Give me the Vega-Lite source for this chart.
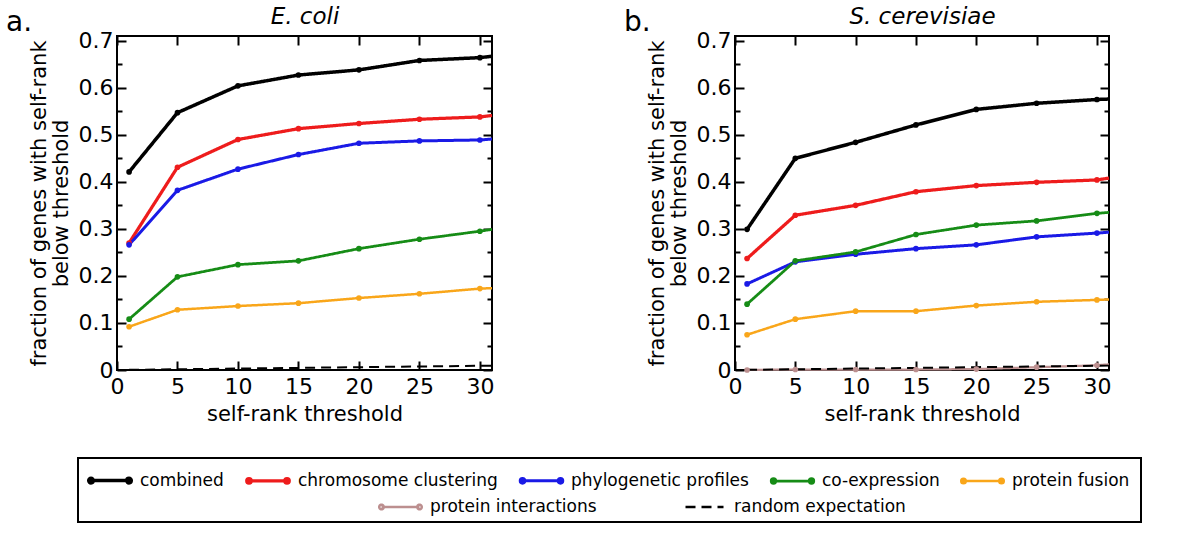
{
  "$schema": "https://vega.github.io/schema/vega-lite/v6.json",
  "padding": {"left": 5, "top": 4, "right": 5, "bottom": 5},
  "background": "white",
  "config": {
    "font": "DejaVu Sans",
    "view": {"stroke": "black", "strokeWidth": 2},
    "axis": {"grid": false, "ticks": true, "domain": false, "tickColor": "black", "tickWidth": 2, "tickSize": 9, "offset": -9, "labelColor": "black", "titleColor": "black", "labelFont": "DejaVu Sans", "titleFont": "DejaVu Sans", "titleFontWeight": "normal", "labelFontSize": 22, "titleFontSize": 21}
  },
  "datasets": {
    "d": [
      {"p":"a","s":"combined","x":1,"y":0.421},{"p":"a","s":"combined","x":5,"y":0.547},{"p":"a","s":"combined","x":10,"y":0.604},{"p":"a","s":"combined","x":15,"y":0.627},{"p":"a","s":"combined","x":20,"y":0.638},{"p":"a","s":"combined","x":25,"y":0.658},{"p":"a","s":"combined","x":30,"y":0.664},{"p":"a","s":"combined","x":31,"y":0.667},
      {"p":"a","s":"chromosome clustering","x":1,"y":0.270},{"p":"a","s":"chromosome clustering","x":5,"y":0.431},{"p":"a","s":"chromosome clustering","x":10,"y":0.490},{"p":"a","s":"chromosome clustering","x":15,"y":0.513},{"p":"a","s":"chromosome clustering","x":20,"y":0.524},{"p":"a","s":"chromosome clustering","x":25,"y":0.533},{"p":"a","s":"chromosome clustering","x":30,"y":0.538},{"p":"a","s":"chromosome clustering","x":31,"y":0.541},
      {"p":"a","s":"phylogenetic profiles","x":1,"y":0.266},{"p":"a","s":"phylogenetic profiles","x":5,"y":0.382},{"p":"a","s":"phylogenetic profiles","x":10,"y":0.427},{"p":"a","s":"phylogenetic profiles","x":15,"y":0.458},{"p":"a","s":"phylogenetic profiles","x":20,"y":0.482},{"p":"a","s":"phylogenetic profiles","x":25,"y":0.487},{"p":"a","s":"phylogenetic profiles","x":30,"y":0.489},{"p":"a","s":"phylogenetic profiles","x":31,"y":0.491},
      {"p":"a","s":"co-expression","x":1,"y":0.108},{"p":"a","s":"co-expression","x":5,"y":0.198},{"p":"a","s":"co-expression","x":10,"y":0.224},{"p":"a","s":"co-expression","x":15,"y":0.232},{"p":"a","s":"co-expression","x":20,"y":0.258},{"p":"a","s":"co-expression","x":25,"y":0.278},{"p":"a","s":"co-expression","x":30,"y":0.295},{"p":"a","s":"co-expression","x":31,"y":0.299},
      {"p":"a","s":"protein fusion","x":1,"y":0.092},{"p":"a","s":"protein fusion","x":5,"y":0.128},{"p":"a","s":"protein fusion","x":10,"y":0.136},{"p":"a","s":"protein fusion","x":15,"y":0.142},{"p":"a","s":"protein fusion","x":20,"y":0.153},{"p":"a","s":"protein fusion","x":25,"y":0.162},{"p":"a","s":"protein fusion","x":30,"y":0.173},{"p":"a","s":"protein fusion","x":31,"y":0.174},
      {"p":"a","s":"random expectation","x":1,"y":0.0003},{"p":"a","s":"random expectation","x":5,"y":0.0015},{"p":"a","s":"random expectation","x":10,"y":0.003},{"p":"a","s":"random expectation","x":15,"y":0.0045},{"p":"a","s":"random expectation","x":20,"y":0.006},{"p":"a","s":"random expectation","x":25,"y":0.0075},{"p":"a","s":"random expectation","x":30,"y":0.009},{"p":"a","s":"random expectation","x":31,"y":0.0093},
      {"p":"b","s":"combined","x":1,"y":0.299},{"p":"b","s":"combined","x":5,"y":0.450},{"p":"b","s":"combined","x":10,"y":0.484},{"p":"b","s":"combined","x":15,"y":0.521},{"p":"b","s":"combined","x":20,"y":0.554},{"p":"b","s":"combined","x":25,"y":0.567},{"p":"b","s":"combined","x":30,"y":0.575},{"p":"b","s":"combined","x":31,"y":0.576},
      {"p":"b","s":"chromosome clustering","x":1,"y":0.237},{"p":"b","s":"chromosome clustering","x":5,"y":0.329},{"p":"b","s":"chromosome clustering","x":10,"y":0.350},{"p":"b","s":"chromosome clustering","x":15,"y":0.379},{"p":"b","s":"chromosome clustering","x":20,"y":0.392},{"p":"b","s":"chromosome clustering","x":25,"y":0.399},{"p":"b","s":"chromosome clustering","x":30,"y":0.404},{"p":"b","s":"chromosome clustering","x":31,"y":0.408},
      {"p":"b","s":"phylogenetic profiles","x":1,"y":0.183},{"p":"b","s":"phylogenetic profiles","x":5,"y":0.230},{"p":"b","s":"phylogenetic profiles","x":10,"y":0.246},{"p":"b","s":"phylogenetic profiles","x":15,"y":0.258},{"p":"b","s":"phylogenetic profiles","x":20,"y":0.266},{"p":"b","s":"phylogenetic profiles","x":25,"y":0.283},{"p":"b","s":"phylogenetic profiles","x":30,"y":0.291},{"p":"b","s":"phylogenetic profiles","x":31,"y":0.293},
      {"p":"b","s":"co-expression","x":1,"y":0.140},{"p":"b","s":"co-expression","x":5,"y":0.232},{"p":"b","s":"co-expression","x":10,"y":0.251},{"p":"b","s":"co-expression","x":15,"y":0.288},{"p":"b","s":"co-expression","x":20,"y":0.308},{"p":"b","s":"co-expression","x":25,"y":0.317},{"p":"b","s":"co-expression","x":30,"y":0.333},{"p":"b","s":"co-expression","x":31,"y":0.335},
      {"p":"b","s":"protein fusion","x":1,"y":0.075},{"p":"b","s":"protein fusion","x":5,"y":0.108},{"p":"b","s":"protein fusion","x":10,"y":0.125},{"p":"b","s":"protein fusion","x":15,"y":0.125},{"p":"b","s":"protein fusion","x":20,"y":0.137},{"p":"b","s":"protein fusion","x":25,"y":0.145},{"p":"b","s":"protein fusion","x":30,"y":0.149},{"p":"b","s":"protein fusion","x":31,"y":0.150},
      {"p":"b","s":"protein interactions","x":1,"y":0.0},{"p":"b","s":"protein interactions","x":5,"y":0.001},{"p":"b","s":"protein interactions","x":10,"y":0.001},{"p":"b","s":"protein interactions","x":15,"y":0.001},{"p":"b","s":"protein interactions","x":20,"y":0.002},{"p":"b","s":"protein interactions","x":25,"y":0.006},{"p":"b","s":"protein interactions","x":30,"y":0.010},{"p":"b","s":"protein interactions","x":31,"y":0.012},
      {"p":"b","s":"random expectation","x":1,"y":0.0003},{"p":"b","s":"random expectation","x":5,"y":0.0015},{"p":"b","s":"random expectation","x":10,"y":0.003},{"p":"b","s":"random expectation","x":15,"y":0.0045},{"p":"b","s":"random expectation","x":20,"y":0.006},{"p":"b","s":"random expectation","x":25,"y":0.0075},{"p":"b","s":"random expectation","x":30,"y":0.009},{"p":"b","s":"random expectation","x":31,"y":0.0093}
    ]
  },
  "data": {"name": "d"},
  "spacing": 123,
  "hconcat": [
    {
      "width": 375, "height": 334,
      "transform": [{"filter": "datum.p === 'a'"}],
      "title": {"text": "a.", "anchor": "start", "frame": "bounds", "fontSize": 28, "fontWeight": "normal", "font": "DejaVu Sans", "dx": -22, "offset": -32, "color": "black"},
      "resolve": {"axis": {"x": "independent", "y": "independent"}},
      "layer": [
        {
          "mark": {"type": "line"},
          "encoding": {
            "x": {"field": "x", "type": "quantitative", "scale": {"domain": [0, 31], "nice": false}, "axis": {"orient": "bottom", "values": [0,5,10,15,20,25,30], "labelPadding": 6, "labelFlush": false, "title": "self-rank threshold", "titlePadding": 6}},
            "y": {"field": "y", "type": "quantitative", "scale": {"domain": [0, 0.71], "nice": false}, "axis": {"orient": "left", "values": [0,0.1,0.2,0.3,0.4,0.5,0.6,0.7], "format": ".1~f", "labelPadding": 4, "labelFlush": false, "title": ["fraction of genes with self-rank", "below threshold"], "titleLineHeight": 22, "titlePadding": 7}},
            "color": {"field": "s", "type": "nominal", "scale": {"domain": ["combined","chromosome clustering","phylogenetic profiles","co-expression","protein fusion","protein interactions","random expectation"], "range": ["#000000","#ee1c1c","#1a1ae6","#168c16","#f9a61a","#bc8f8f","#000000"]},
              "legend": {"orient": "none", "legendX": -39, "legendY": 422, "direction": "horizontal", "values": ["combined","chromosome clustering","phylogenetic profiles","co-expression","protein fusion"], "title": " ", "titleOrient": "bottom", "titleFontSize": 17, "titlePadding": 5, "labelFontSize": 17, "labelFont": "DejaVu Sans", "labelColor": "black", "labelLimit": 400, "symbolSize": 361, "strokeColor": "black", "padding": 11, "columnPadding": 16, "labelOffset": 28, "symbolStrokeWidth": 2.5,
                "encode": {"legend": {"update": {"strokeWidth": {"value": 2}}}, "symbols": {"update": {"shape": {"value": "M-1,0H3M-1.24,0A0.24,0.24,0,1,0,-0.76,0A0.24,0.24,0,1,0,-1.24,0ZM2.76,0A0.24,0.24,0,1,0,3.24,0A0.24,0.24,0,1,0,2.76,0Z"}}}}}},
            "strokeDash": {"field": "s", "type": "nominal", "scale": {"domain": ["protein interactions","random expectation","combined","chromosome clustering","phylogenetic profiles","co-expression","protein fusion"], "range": [[1,0],[10,6],[1,0],[1,0],[1,0],[1,0],[1,0]]},
              "legend": {"orient": "none", "legendX": 263, "legendY": 460, "direction": "horizontal", "values": ["protein interactions","random expectation"], "title": null, "labelFontSize": 17, "labelFont": "DejaVu Sans", "labelColor": "black", "labelLimit": 400, "symbolSize": 361, "padding": 0, "columnPadding": 83, "labelOffset": 28, "symbolStrokeWidth": 2.5,
                "encode": {"symbols": {"update": {"stroke": {"signal": "datum.value === 'protein interactions' ? '#bc8f8f' : 'black'"}, "shape": {"signal": "datum.value === 'random expectation' ? 'M-1,0H3' : 'M-1,0H3M-1.24,0A0.24,0.24,0,1,0,-0.76,0A0.24,0.24,0,1,0,-1.24,0ZM2.76,0A0.24,0.24,0,1,0,3.24,0A0.24,0.24,0,1,0,2.76,0Z'"}}}}}},
            "strokeWidth": {"field": "s", "type": "nominal", "scale": {"domain": ["combined","chromosome clustering","phylogenetic profiles","co-expression","protein fusion","protein interactions","random expectation"], "range": [3.5,2,2,2,2,2,1.8]}}
          }
        },
        {
          "transform": [{"filter": "datum.s !== 'random expectation' && datum.x <= 30"}],
          "mark": {"type": "point", "filled": true, "size": 32, "opacity": 1},
          "encoding": {
            "x": {"field": "x", "type": "quantitative", "axis": {"orient": "top", "values": [0,5,10,15,20,25,30], "labels": false, "title": "E. coli", "titleFontStyle": "italic", "titleFontSize": 23, "titlePadding": 7}},
            "y": {"field": "y", "type": "quantitative", "axis": {"orient": "right", "values": [0,0.1,0.2,0.3,0.4,0.5,0.6,0.7], "labels": false, "title": null}},
            "color": {"field": "s", "type": "nominal"}
          }
        },
        {
          "mark": {"type": "point", "opacity": 0},
          "encoding": {
            "x": {"field": "x", "type": "quantitative", "axis": null},
            "y": {"field": "y", "type": "quantitative", "axis": {"orient": "left", "values": [0.05,0.15,0.25,0.35,0.45,0.55,0.65], "offset": -5, "tickSize": 5, "labels": false, "title": null}}
          }
        },
        {
          "mark": {"type": "point", "opacity": 0},
          "encoding": {
            "x": {"field": "x", "type": "quantitative", "axis": null},
            "y": {"field": "y", "type": "quantitative", "axis": {"orient": "right", "values": [0.05,0.15,0.25,0.35,0.45,0.55,0.65], "offset": -5, "tickSize": 5, "labels": false, "title": null}}
          }
        }
      ]
    },
    {
      "width": 374, "height": 334,
      "transform": [{"filter": "datum.p === 'b'"}],
      "title": {"text": "b.", "anchor": "start", "frame": "bounds", "fontSize": 28, "fontWeight": "normal", "font": "DejaVu Sans", "dx": -22, "offset": -32, "color": "black"},
      "resolve": {"axis": {"x": "independent", "y": "independent"}},
      "layer": [
        {
          "mark": {"type": "line"},
          "encoding": {
            "x": {"field": "x", "type": "quantitative", "scale": {"domain": [0, 31], "nice": false}, "axis": {"orient": "bottom", "values": [0,5,10,15,20,25,30], "labelPadding": 6, "labelFlush": false, "title": "self-rank threshold", "titlePadding": 6}},
            "y": {"field": "y", "type": "quantitative", "scale": {"domain": [0, 0.71], "nice": false}, "axis": {"orient": "left", "values": [0,0.1,0.2,0.3,0.4,0.5,0.6,0.7], "format": ".1~f", "labelPadding": 4, "labelFlush": false, "title": ["fraction of genes with self-rank", "below threshold"], "titleLineHeight": 22, "titlePadding": 7}},
            "color": {"field": "s", "type": "nominal"},
            "strokeDash": {"field": "s", "type": "nominal"},
            "strokeWidth": {"field": "s", "type": "nominal"}
          }
        },
        {
          "transform": [{"filter": "datum.s !== 'random expectation' && datum.x <= 30"}],
          "mark": {"type": "point", "filled": true, "size": 32, "opacity": 1},
          "encoding": {
            "x": {"field": "x", "type": "quantitative", "axis": {"orient": "top", "values": [0,5,10,15,20,25,30], "labels": false, "title": "S. cerevisiae", "titleFontStyle": "italic", "titleFontSize": 23, "titlePadding": 7}},
            "y": {"field": "y", "type": "quantitative", "axis": {"orient": "right", "values": [0,0.1,0.2,0.3,0.4,0.5,0.6,0.7], "labels": false, "title": null}},
            "color": {"field": "s", "type": "nominal"}
          }
        },
        {
          "mark": {"type": "point", "opacity": 0},
          "encoding": {
            "x": {"field": "x", "type": "quantitative", "axis": null},
            "y": {"field": "y", "type": "quantitative", "axis": {"orient": "left", "values": [0.05,0.15,0.25,0.35,0.45,0.55,0.65], "offset": -5, "tickSize": 5, "labels": false, "title": null}}
          }
        },
        {
          "mark": {"type": "point", "opacity": 0},
          "encoding": {
            "x": {"field": "x", "type": "quantitative", "axis": null},
            "y": {"field": "y", "type": "quantitative", "axis": {"orient": "right", "values": [0.05,0.15,0.25,0.35,0.45,0.55,0.65], "offset": -5, "tickSize": 5, "labels": false, "title": null}}
          }
        }
      ]
    }
  ]
}
